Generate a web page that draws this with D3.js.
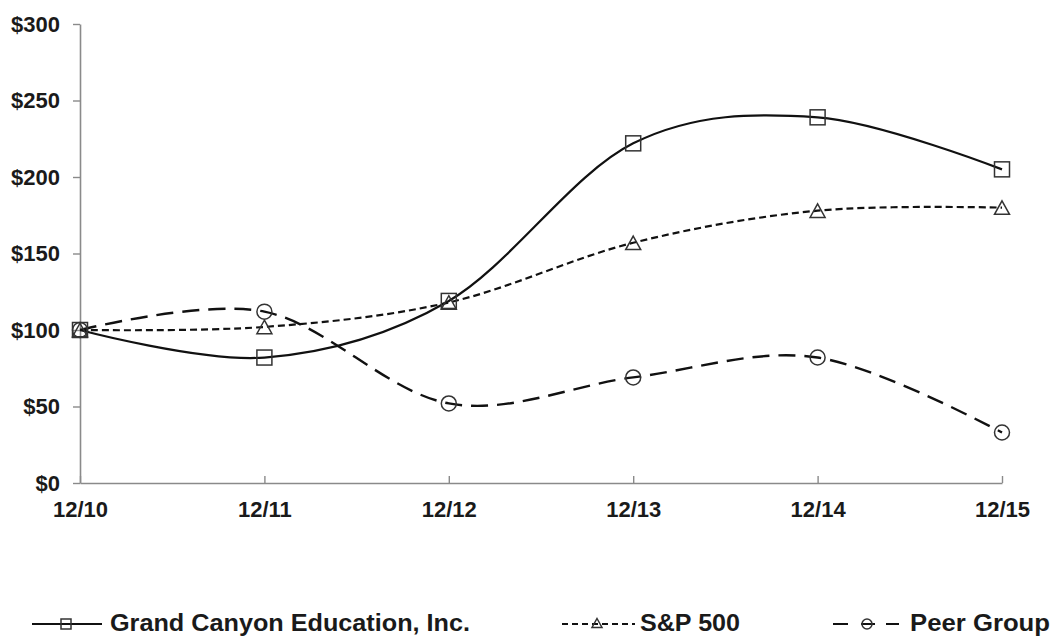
<!DOCTYPE html>
<html>
<head>
<meta charset="utf-8">
<script src="https://cdn.jsdelivr.net/npm/d3@7"></script>
<style>
  html, body { margin: 0; padding: 0; background: #fff; }
  svg { display: block; }
  text { font-family: "Liberation Sans", Arial, sans-serif; font-weight: bold; fill: #1a1a1a; }
</style>
</head>
<body>
<svg id="chart" width="1055" height="637"></svg>
<script>
const categories = ["12/10", "12/11", "12/12", "12/13", "12/14", "12/15"];
const gceValues  = [100, 82, 119, 222, 239, 205];
const spValues   = [100, 102, 118, 157, 178, 180];
const peerValues = [100, 112, 52, 69, 82, 33];
const yTicks = [0, 50, 100, 150, 200, 250, 300];
const seriesNames = ["Grand Canyon Education, Inc.", "S&P 500", "Peer Group"];

const svg = d3.select("#chart");
const x = d3.scalePoint().domain(categories).range([80, 1002]);
const y = d3.scaleLinear().domain([0, 300]).range([483, 24]);

// Y axis
const yAxis = svg.append("g").attr("transform", "translate(80,0)")
  .call(d3.axisLeft(y).tickValues(yTicks).tickFormat(d => "$" + d)
        .tickSizeInner(7).tickSizeOuter(0).tickPadding(13));
yAxis.select(".domain").attr("stroke", "#8a8a8a").attr("stroke-width", 1.6);
yAxis.selectAll(".tick line").attr("stroke", "#8a8a8a").attr("stroke-width", 1.4);
yAxis.selectAll(".tick text").attr("font-size", 22).attr("font-family", null).attr("fill", "#1a1a1a");

// X axis
const xAxis = svg.append("g").attr("transform", "translate(0,483)")
  .call(d3.axisBottom(x).tickSizeInner(-7).tickSizeOuter(0).tickPadding(19));
xAxis.select(".domain").attr("stroke", "#8a8a8a").attr("stroke-width", 1.6);
xAxis.selectAll(".tick line").attr("stroke", "#8a8a8a").attr("stroke-width", 1.4);
xAxis.selectAll(".tick text").attr("font-size", 22).attr("font-family", null).attr("fill", "#1a1a1a")
  .attr("y", 34).attr("dy", null);

const curve = d3.curveCatmullRom.alpha(0);
const line = d3.line().x((d, i) => x(categories[i])).y(d => y(d)).curve(curve);

const series = [
  { name: seriesNames[0], values: gceValues, dash: null, width: 2.2, marker: "square" },
  { name: seriesNames[1], values: spValues, dash: "7,4", width: 2.2, marker: "triangle" },
  { name: seriesNames[2], values: peerValues, dash: "17,9", width: 2.4, marker: "circle" }
];

const markerStroke = "#333";
function drawMarker(g, type, cx, cy, s) {
  if (type === "square") {
    g.append("rect").attr("x", cx - s / 2).attr("y", cy - s / 2).attr("width", s).attr("height", s)
      .attr("fill", "none").attr("stroke", markerStroke).attr("stroke-width", 1.5);
  } else if (type === "triangle") {
    const h = s * 0.9;
    g.append("path")
      .attr("d", `M${cx},${cy - h / 2} L${cx + s / 2},${cy + h / 2} L${cx - s / 2},${cy + h / 2} Z`)
      .attr("fill", "none").attr("stroke", markerStroke).attr("stroke-width", 1.5);
  } else {
    g.append("circle").attr("cx", cx).attr("cy", cy).attr("r", s / 2)
      .attr("fill", "none").attr("stroke", markerStroke).attr("stroke-width", 1.5);
  }
}

// Draw lines (Peer first, then S&P, then GCE on top)
[2, 1, 0].forEach(k => {
  const s = series[k];
  svg.append("path").datum(s.values).attr("d", line)
    .attr("fill", "none").attr("stroke", "#111").attr("stroke-width", s.width)
    .attr("stroke-dasharray", s.dash);
});
[2, 1, 0].forEach(k => {
  const s = series[k];
  const g = svg.append("g");
  s.values.forEach((v, i) => drawMarker(g, s.marker, x(categories[i]), y(v), 15));
});

// Legend
const ly = 624;
const leg = svg.append("g");
// GCE
leg.append("line").attr("x1", 32).attr("x2", 102).attr("y1", ly).attr("y2", ly)
  .attr("stroke", "#111").attr("stroke-width", 2.2);
drawMarker(leg, "square", 66, ly, 10);
leg.append("text").attr("x", 110).attr("y", 631).attr("font-size", 24)
  .attr("textLength", 360).attr("lengthAdjust", "spacingAndGlyphs").text(seriesNames[0]);
// S&P
leg.append("line").attr("x1", 562).attr("x2", 635).attr("y1", ly).attr("y2", ly)
  .attr("stroke", "#111").attr("stroke-width", 2).attr("stroke-dasharray", "6,4");
drawMarker(leg, "triangle", 597, ly - 1, 10);
leg.append("text").attr("x", 640).attr("y", 631).attr("font-size", 24)
  .attr("textLength", 100).attr("lengthAdjust", "spacingAndGlyphs").text(seriesNames[1]);
// Peer
leg.append("line").attr("x1", 833).attr("x2", 900).attr("y1", ly).attr("y2", ly)
  .attr("stroke", "#111").attr("stroke-width", 2.2).attr("stroke-dasharray", "15,13,14,11,13");
drawMarker(leg, "circle", 867, ly, 10);
leg.append("text").attr("x", 910).attr("y", 631).attr("font-size", 24)
  .attr("textLength", 140).attr("lengthAdjust", "spacingAndGlyphs").text(seriesNames[2]);
</script>
</body>
</html>
